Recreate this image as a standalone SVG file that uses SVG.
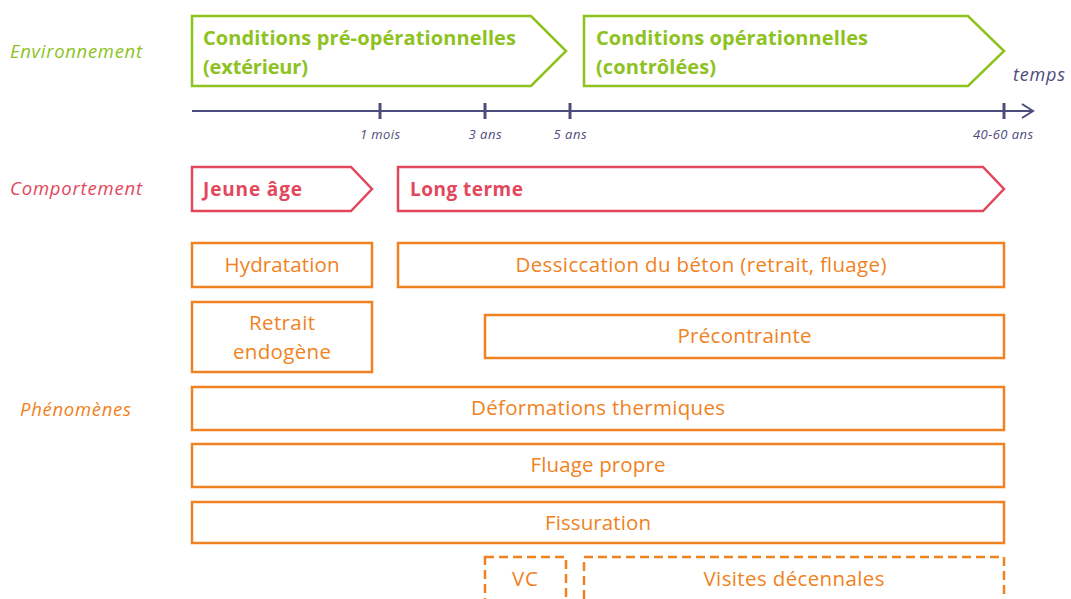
<svg xmlns="http://www.w3.org/2000/svg" width="1071" height="599" viewBox="0 0 1071 599">
  <style>
    text { font-family: "Open Sans", Lato, "Liberation Sans", sans-serif; }
    .lab { font-style: italic; font-size: 18.5px; }
    .env { fill: none; stroke: #8DC21F; stroke-width: 2.5; }
    .envt { fill: #8DC21F; font-weight: bold; font-size: 20px; }
    .beh { fill: none; stroke: #E2475C; stroke-width: 2.5; }
    .beht { fill: #E2475C; font-weight: bold; font-size: 19px; }
    .box { fill: none; stroke: #F08222; stroke-width: 2.5; }
    .dash { fill: none; stroke: #F08222; stroke-width: 2.5; stroke-dasharray: 9 5; }
    .bt { fill: #F08222; font-size: 20.5px; text-anchor: middle; }
    .axis { stroke: #4D4D7D; stroke-width: 2; fill: none; }
    .tick { stroke: #4D4D7D; stroke-width: 3; }
    .tl { fill: #4D4D7D; font-style: italic; font-size: 13px; text-anchor: middle; }
  </style>

  <!-- row labels -->
  <text class="lab" x="10" y="58" fill="#8DC21F" textLength="132">Environnement</text>
  <text class="lab" x="10" y="195" fill="#E2475C" textLength="132">Comportement</text>
  <text class="lab" x="20" y="416" fill="#F08222" textLength="111">Phénomènes</text>

  <!-- environment phases -->
  <g id="env-pre">
    <path class="env" d="M192 16 H531 L566 51 L531 86 H192 Z"/>
    <text class="envt" x="203" y="45" textLength="313">Conditions pré-opérationnelles</text>
    <text class="envt" x="203" y="74" textLength="105">(extérieur)</text>
  </g>
  <g id="env-op">
    <path class="env" d="M584 16 H968 L1004 51 L968 86 H584 Z"/>
    <text class="envt" x="596" y="45" textLength="272">Conditions opérationnelles</text>
    <text class="envt" x="596" y="74" textLength="120">(contrôlées)</text>
  </g>

  <!-- time axis -->
  <g id="axis">
    <line class="axis" x1="192" y1="111" x2="1032" y2="111"/>
    <path class="axis" d="M1022 104 L1033 111 L1022 118"/>
    <line class="tick" x1="380" y1="103" x2="380" y2="119"/>
    <line class="tick" x1="485" y1="103" x2="485" y2="119"/>
    <line class="tick" x1="570" y1="103" x2="570" y2="119"/>
    <line class="tick" x1="1004" y1="103" x2="1004" y2="119"/>
    <text class="tl" x="380" y="139" textLength="40">1 mois</text>
    <text class="tl" x="485" y="139" textLength="33">3 ans</text>
    <text class="tl" x="570" y="139" textLength="33">5 ans</text>
    <text class="tl" x="1003" y="139" textLength="60">40-60 ans</text>
    <text x="1013" y="81" fill="#4D4D7D" font-style="italic" font-size="18px" textLength="52">temps</text>
  </g>

  <!-- behaviour phases -->
  <g id="jeune-age">
    <path class="beh" d="M192 167 H351 L372 189 L351 211 H192 Z"/>
    <text class="beht" x="203" y="196" textLength="99">Jeune âge</text>
  </g>
  <g id="long-terme">
    <path class="beh" d="M398 167 H983 L1004 189 L983 211 H398 Z"/>
    <text class="beht" x="410" y="196" textLength="113">Long terme</text>
  </g>

  <!-- phenomena -->
  <g id="hydratation">
    <rect class="box" x="192" y="243" width="180" height="44"/>
    <text class="bt" x="282" y="272" textLength="115">Hydratation</text>
  </g>
  <g id="dessiccation">
    <rect class="box" x="398" y="243" width="606" height="44"/>
    <text class="bt" x="701" y="272" textLength="371">Dessiccation du béton (retrait, fluage)</text>
  </g>
  <g id="retrait-endogene">
    <rect class="box" x="192" y="302" width="180" height="70"/>
    <text class="bt" x="282" y="330" textLength="66">Retrait</text>
    <text class="bt" x="282" y="359" textLength="98">endogène</text>
  </g>
  <g id="precontrainte">
    <rect class="box" x="485" y="315" width="519" height="43"/>
    <text class="bt" x="744.5" y="343" textLength="134">Précontrainte</text>
  </g>
  <g id="deformations-thermiques">
    <rect class="box" x="192" y="387" width="812" height="43"/>
    <text class="bt" x="598" y="415" textLength="254">Déformations thermiques</text>
  </g>
  <g id="fluage-propre">
    <rect class="box" x="192" y="444" width="812" height="43"/>
    <text class="bt" x="598" y="472" textLength="135">Fluage propre</text>
  </g>
  <g id="fissuration">
    <rect class="box" x="192" y="502" width="812" height="41"/>
    <text class="bt" x="598" y="530" textLength="106">Fissuration</text>
  </g>
  <g id="vc">
    <rect class="dash" x="485" y="557" width="81" height="70"/>
    <text class="bt" x="525" y="586" textLength="26">VC</text>
  </g>
  <g id="visites-decennales">
    <rect class="dash" x="584" y="557" width="420" height="70"/>
    <text class="bt" x="794" y="586" textLength="181">Visites décennales</text>
  </g>

  <!-- connectors: none drawn -->
  <g id="connectors"/>
</svg>
